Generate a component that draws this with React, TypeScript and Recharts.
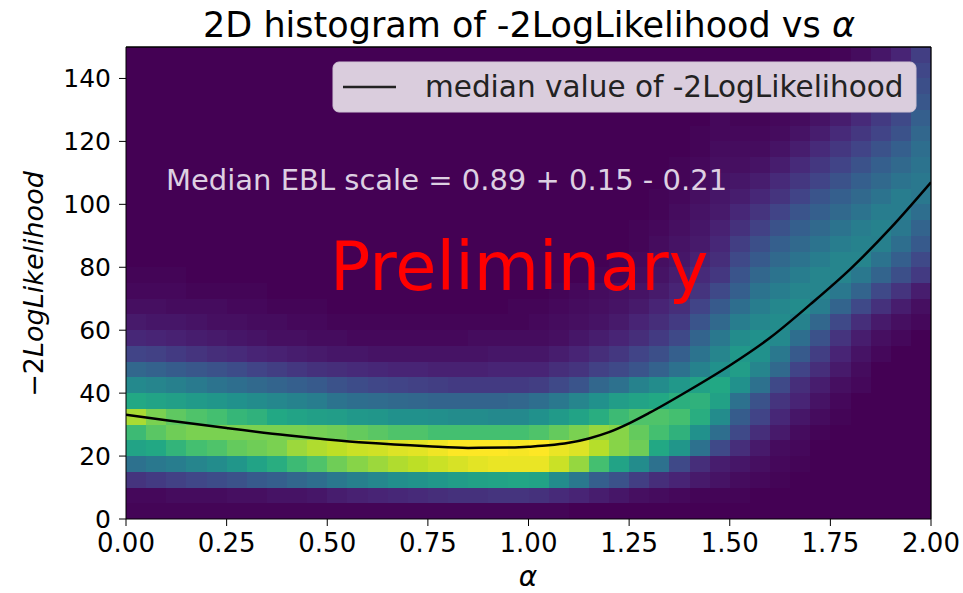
import React from "react";
import { ComposedChart, Line, XAxis, YAxis, ReferenceArea, ReferenceLine } from "recharts";

// bin edges of the 2D histogram
const alphaEdges = [
  0, 0.05, 0.1, 0.15, 0.2, 0.25, 0.3, 0.35, 0.4, 0.45, 0.5, 0.55, 0.6, 0.65, 0.7, 0.75, 0.8, 0.85, 0.9, 0.95,
  1.0, 1.05, 1.1, 1.15, 1.2, 1.25, 1.3, 1.35, 1.4, 1.45, 1.5, 1.55, 1.6, 1.65, 1.7, 1.75, 1.8, 1.85, 1.9, 1.95, 2.0,
];
const llEdges = [
  0, 5, 10, 15, 20, 25, 30, 35, 40, 45, 50, 55, 60, 65, 70, 75, 80, 85, 90, 95, 100, 105, 110, 115, 120, 125, 130,
  135, 140, 145, 150,
];

// relative counts (0-100), one row per -2LogL bin (bottom row first), one value per alpha bin
const counts = [
  [1, 1, 1, 1, 1, 1, 1, 1, 1, 1, 1, 1, 1, 1, 1, 1, 1, 1, 1, 1, 1, 1, 0, 0, 0, 0, 0, 0, 0, 0, 0, 0, 0, 0, 0, 0, 0, 0, 0, 0],
  [2, 2, 3, 3, 3, 4, 4, 5, 5, 6, 8, 9, 10, 11, 12, 13, 14, 14, 15, 15, 14, 12, 10, 8, 6, 4, 3, 2, 1, 1, 1, 0, 0, 0, 0, 0, 0, 0, 0, 0],
  [15, 17, 19, 21, 23, 25, 28, 30, 33, 36, 40, 43, 46, 49, 51, 53, 55, 57, 58, 59, 58, 48, 40, 30, 25, 18, 13, 10, 7, 5, 3, 2, 1, 0, 0, 0, 0, 0, 0, 0],
  [37, 40, 42, 45, 48, 52, 58, 62, 68, 72, 78, 82, 85, 88, 90, 92, 94, 96, 97, 97, 97, 92, 84, 70, 58, 48, 37, 22, 13, 8, 6, 4, 2, 1, 0, 0, 0, 0, 0, 0],
  [58, 60, 65, 70, 72, 76, 78, 80, 85, 88, 90, 92, 93, 95, 96, 98, 100, 100, 100, 99, 100, 97, 95, 89, 82, 78, 60, 52, 37, 22, 13, 7, 3, 2, 0, 0, 0, 0, 0, 0],
  [68, 74, 78, 80, 80, 80, 80, 80, 80, 79, 78, 76, 74, 72, 72, 70, 70, 70, 70, 70, 72, 76, 80, 84, 82, 76, 70, 64, 50, 36, 22, 13, 7, 3, 1, 0, 0, 0, 0, 0],
  [87, 80, 75, 72, 70, 66, 64, 60, 58, 56, 55, 53, 52, 50, 50, 49, 48, 48, 47, 47, 50, 54, 58, 62, 68, 72, 72, 70, 62, 48, 29, 20, 11, 6, 3, 1, 0, 0, 0, 0],
  [60, 58, 56, 54, 52, 50, 48, 46, 44, 42, 38, 36, 35, 34, 33, 32, 32, 32, 32, 33, 36, 40, 45, 50, 55, 58, 60, 63, 64, 57, 37, 25, 15, 10, 5, 2, 0, 0, 0, 0],
  [47, 45, 43, 41, 38, 36, 34, 32, 30, 28, 25, 23, 21, 20, 19, 18, 17, 17, 17, 17, 18, 22, 26, 33, 37, 44, 48, 53, 57, 60, 50, 37, 22, 13, 8, 4, 2, 0, 0, 0],
  [33, 31, 29, 27, 25, 23, 20, 18, 16, 14, 13, 12, 11, 10, 10, 9, 9, 9, 10, 10, 10, 13, 15, 19, 22, 26, 31, 37, 44, 50, 55, 45, 34, 20, 13, 7, 3, 0, 0, 0],
  [20, 19, 17, 15, 13, 12, 10, 9, 8, 7, 6, 6, 5, 5, 5, 5, 5, 5, 6, 6, 6, 8, 10, 13, 16, 20, 24, 30, 38, 45, 53, 50, 40, 28, 18, 10, 5, 2, 0, 0],
  [11, 10, 9, 8, 7, 6, 5, 4, 4, 3, 3, 2, 2, 2, 2, 2, 2, 3, 3, 3, 3, 4, 6, 8, 10, 13, 17, 22, 32, 40, 48, 50, 47, 36, 25, 15, 8, 4, 2, 0],
  [7, 6, 6, 5, 4, 4, 3, 3, 2, 2, 1, 1, 1, 1, 1, 1, 1, 1, 1, 1, 2, 3, 4, 5, 7, 10, 13, 17, 26, 34, 42, 46, 48, 44, 33, 22, 13, 7, 4, 2],
  [4, 4, 3, 3, 3, 2, 2, 1, 1, 1, 0, 0, 0, 0, 0, 0, 0, 0, 0, 1, 1, 2, 3, 4, 5, 7, 10, 13, 20, 28, 36, 42, 46, 48, 42, 32, 22, 14, 8, 4],
  [2, 2, 2, 1, 1, 1, 1, 0, 0, 0, 0, 0, 0, 0, 0, 0, 0, 0, 0, 0, 0, 1, 2, 3, 4, 5, 7, 10, 15, 22, 30, 38, 42, 45, 45, 40, 32, 22, 15, 8],
  [1, 1, 1, 0, 0, 0, 0, 0, 0, 0, 0, 0, 0, 0, 0, 0, 0, 0, 0, 0, 0, 0, 0, 1, 1, 3, 5, 8, 12, 16, 26, 33, 38, 42, 45, 45, 40, 32, 24, 17],
  [0, 0, 0, 0, 0, 0, 0, 0, 0, 0, 0, 0, 0, 0, 0, 0, 0, 0, 0, 0, 0, 0, 0, 0, 1, 2, 4, 6, 9, 13, 22, 28, 34, 38, 42, 45, 45, 38, 30, 22],
  [0, 0, 0, 0, 0, 0, 0, 0, 0, 0, 0, 0, 0, 0, 0, 0, 0, 0, 0, 0, 0, 0, 0, 0, 0, 1, 3, 5, 7, 11, 18, 24, 30, 34, 38, 42, 44, 43, 36, 28],
  [0, 0, 0, 0, 0, 0, 0, 0, 0, 0, 0, 0, 0, 0, 0, 0, 0, 0, 0, 0, 0, 0, 0, 0, 0, 1, 2, 4, 6, 9, 14, 19, 25, 30, 34, 38, 42, 44, 40, 32],
  [0, 0, 0, 0, 0, 0, 0, 0, 0, 0, 0, 0, 0, 0, 0, 0, 0, 0, 0, 0, 0, 0, 0, 0, 0, 0, 1, 3, 5, 7, 11, 15, 20, 26, 30, 34, 38, 42, 42, 36],
  [0, 0, 0, 0, 0, 0, 0, 0, 0, 0, 0, 0, 0, 0, 0, 0, 0, 0, 0, 0, 0, 0, 0, 0, 0, 0, 1, 2, 4, 6, 8, 11, 15, 20, 26, 30, 34, 38, 42, 40],
  [0, 0, 0, 0, 0, 0, 0, 0, 0, 0, 0, 0, 0, 0, 0, 0, 0, 0, 0, 0, 0, 0, 0, 0, 0, 0, 0, 1, 3, 5, 6, 8, 12, 16, 20, 25, 30, 34, 38, 40],
  [0, 0, 0, 0, 0, 0, 0, 0, 0, 0, 0, 0, 0, 0, 0, 0, 0, 0, 0, 0, 0, 0, 0, 0, 0, 0, 0, 1, 2, 4, 4, 5, 8, 12, 16, 20, 25, 30, 34, 38],
  [0, 0, 0, 0, 0, 0, 0, 0, 0, 0, 0, 0, 0, 0, 0, 0, 0, 0, 0, 0, 0, 0, 0, 0, 0, 0, 0, 0, 1, 3, 3, 3, 5, 8, 12, 16, 20, 25, 30, 36],
  [0, 0, 0, 0, 0, 0, 0, 0, 0, 0, 0, 0, 0, 0, 0, 0, 0, 0, 0, 0, 0, 0, 0, 0, 0, 0, 0, 0, 1, 2, 2, 2, 3, 5, 8, 12, 16, 20, 25, 33],
  [0, 0, 0, 0, 0, 0, 0, 0, 0, 0, 0, 0, 0, 0, 0, 0, 0, 0, 0, 0, 0, 0, 0, 0, 0, 0, 0, 0, 0, 2, 1, 1, 2, 3, 5, 8, 12, 17, 22, 30],
  [0, 0, 0, 0, 0, 0, 0, 0, 0, 0, 0, 0, 0, 0, 0, 0, 0, 0, 0, 0, 0, 0, 0, 0, 0, 0, 0, 0, 0, 1, 1, 1, 1, 2, 3, 5, 9, 14, 19, 27],
  [0, 0, 0, 0, 0, 0, 0, 0, 0, 0, 0, 0, 0, 0, 0, 0, 0, 0, 0, 0, 0, 0, 0, 0, 0, 0, 0, 0, 0, 1, 0, 0, 0, 1, 2, 3, 6, 11, 16, 24],
  [0, 0, 0, 0, 0, 0, 0, 0, 0, 0, 0, 0, 0, 0, 0, 0, 0, 0, 0, 0, 0, 0, 0, 0, 0, 0, 0, 0, 0, 0, 0, 0, 0, 0, 1, 2, 4, 8, 13, 21],
  [0, 0, 0, 0, 0, 0, 0, 0, 0, 0, 0, 0, 0, 0, 0, 0, 0, 0, 0, 0, 0, 0, 0, 0, 0, 0, 0, 0, 0, 0, 0, 0, 0, 0, 0, 1, 3, 6, 10, 18],
];

// median -2LogLikelihood per alpha
const medianAlpha = [0, 0.1, 0.25, 0.4, 0.5, 0.6, 0.75, 0.85, 0.95, 1.0, 1.05, 1.1, 1.15, 1.2, 1.25, 1.3, 1.4, 1.5, 1.6, 1.7, 1.8, 1.9, 2.0];
const medianLL = [33.1, 31.4, 28.9, 26.6, 25.3, 24.2, 23.1, 22.6, 22.7, 23.0, 23.4, 24.2, 25.6, 27.6, 30.4, 33.7, 41.0, 48.8, 57.6, 68.2, 79.5, 92.5, 107];

const xTicks = [0, 0.25, 0.5, 0.75, 1.0, 1.25, 1.5, 1.75, 2.0];
const yTicks = [0, 20, 40, 60, 80, 100, 120, 140];

const viridisStops = [
  "#440154", "#482475", "#414487", "#355f8d", "#2a788e", "#21918c",
  "#22a884", "#44bf70", "#7ad151", "#bddf26", "#fde725",
];

function hexToRgb(h: string) {
  return [parseInt(h.slice(1, 3), 16), parseInt(h.slice(3, 5), 16), parseInt(h.slice(5, 7), 16)];
}

function viridis(t: number) {
  const v = Math.max(0, Math.min(1, t)) * (viridisStops.length - 1);
  const i = Math.min(Math.floor(v), viridisStops.length - 2);
  const f = v - i;
  const a = hexToRgb(viridisStops[i]);
  const b = hexToRgb(viridisStops[i + 1]);
  const c = a.map((x, k) => Math.round(x + (b[k] - x) * f));
  return `rgb(${c[0]},${c[1]},${c[2]})`;
}

const FONT = "'DejaVu Sans', sans-serif";

const data = medianAlpha.map((a, i) => ({ alpha: a, ll: medianLL[i] }));

const cells = counts.flatMap((row, r) =>
  row.map((v, c) => ({
    x1: alphaEdges[c], x2: alphaEdges[c + 1],
    y1: llEdges[r], y2: llEdges[r + 1],
    color: viridis(v / 100),
  })),
);

// plain rect, no stroke, so neighbouring bins meet without seams
const Cell = (p: any) => (
  <rect x={p.x} y={p.y} width={p.width} height={p.height} fill={p.fill} shapeRendering="crispEdges" />
);

export default function App() {
  return (
    <div style={{ position: "absolute", left: 0, top: 0, width: 963, height: 593, background: "#fff" }}>
      <ComposedChart width={963} height={593} data={data} margin={{ top: 47, right: 32, bottom: 0, left: 0 }}>
        {cells.map((c, i) => (
          <ReferenceArea key={i} x1={c.x1} x2={c.x2} y1={c.y1} y2={c.y2}
            fill={c.color} fillOpacity={1} ifOverflow="hidden" shape={Cell} />
        ))}
        <Line type="monotone" dataKey="ll" stroke="#000" strokeWidth={2.5} dot={false} isAnimationActive={false} />
        <ReferenceLine y={150} stroke="#000" strokeWidth={1.3} />
        <ReferenceLine x={2} stroke="#000" strokeWidth={1.3} />
        <XAxis type="number" dataKey="alpha" domain={[0, 2]} ticks={xTicks} allowDataOverflow
          height={74} tickSize={7} tickMargin={8} tickFormatter={(v: number) => v.toFixed(2)}
          stroke="#000" tick={{ fill: "#000", fontSize: 26, fontFamily: FONT }} />
        <YAxis type="number" domain={[0, 150]} ticks={yTicks} allowDataOverflow
          width={126} tickSize={7} tickMargin={8}
          stroke="#000" tick={{ fill: "#000", fontSize: 25, fontFamily: FONT }} />
      </ComposedChart>
      <svg width={963} height={593} style={{ position: "absolute", left: 0, top: 0, pointerEvents: "none" }}
        fontFamily={FONT}>
        <text x={529} y={37} textAnchor="middle" fontSize={35} fill="#000">
          2D histogram of -2LogLikelihood vs <tspan fontStyle="italic">α</tspan>
        </text>
        <text x={166} y={190} fontSize={29} fill="#ddd0e2">Median EBL scale = 0.89 + 0.15 - 0.21</text>
        <text x={330} y={290} fontSize={67} fill="#ff0000">Preliminary</text>
        <rect x={333} y={62} width={583} height={50} rx={6} fill="#dacddd" stroke="#cfc3d4" />
        <line x1={343} y1={87} x2={396} y2={87} stroke="#222" strokeWidth={2.5} />
        <text x={425} y={97} fontSize={29.5} fill="#222">median value of -2LogLikelihood</text>
        <text x={528} y={586} textAnchor="middle" fontSize={28} fontStyle="italic" fill="#000">α</text>
        <text transform="translate(43,284) rotate(-90)" textAnchor="middle" fontSize={27} fill="#000">
          −2<tspan fontStyle="italic">LogLikelihood</tspan>
        </text>
      </svg>
    </div>
  );
}
